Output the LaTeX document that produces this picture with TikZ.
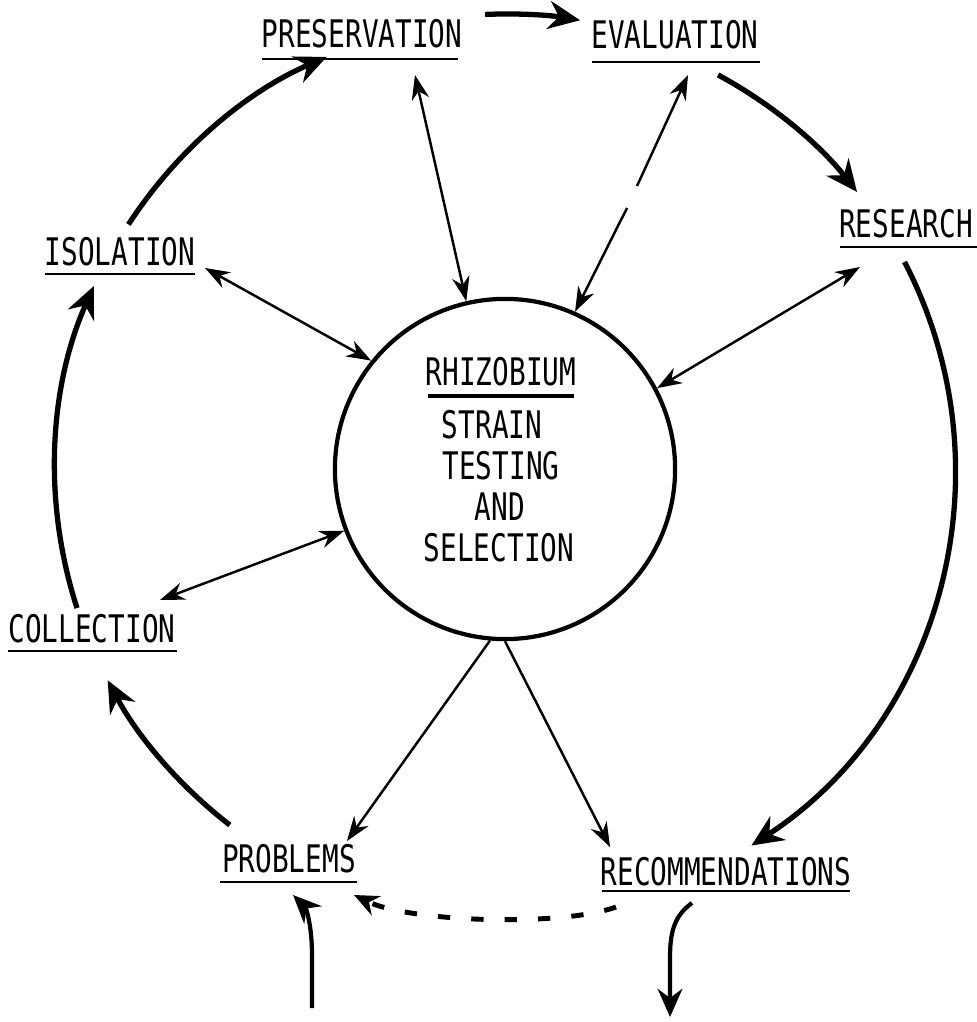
\documentclass[tikz,border=0pt]{standalone}
\usepackage{fontspec}
\setmainfont{DejaVu Sans Mono}[FakeStretch=0.73]
\usetikzlibrary{arrows.meta,calc}
\begin{document}
\begin{tikzpicture}[x=0.01cm,y=-0.01cm,
  lbl/.style={inner sep=0pt,font=\fontsize{10.8}{12}\selectfont},
  uline/.style={line width=0.8pt},
  cyc/.style={line width=1.5pt,-{Stealth[length=9pt,width=8pt]}},
  link/.style={line width=0.7pt,{Stealth[length=7pt,width=5pt]}-{Stealth[length=7pt,width=5pt]}},
  single/.style={line width=0.7pt,-{Stealth[length=7pt,width=5pt]}},
  ioarrow/.style={line width=1.2pt,-{Stealth[length=8pt,width=7pt]}},
  feedback/.style={line width=1.4pt,dash pattern=on 3.5pt off 6pt,-{Stealth[length=7pt,width=6pt]}}
]
\useasboundingbox (0,0) rectangle (977,1022);
\coordinate (C) at (505,469);
\node[draw,circle,line width=1.2pt,minimum size=3.4cm,inner sep=0pt] (rz) at (C) {};

% labels
\node[lbl] (pres) at (362,33.5) {PRESERVATION};
\node[lbl] (eval) at (675,34.5) {EVALUATION};
\node[lbl] (res)  at (906,223.5) {RESEARCH};
\node[lbl] (iso)  at (120,251.5) {ISOLATION};
\node[lbl] (coll) at (92,629) {COLLECTION};
\node[lbl] (prob) at (289,858.5) {PROBLEMS};
\node[lbl] (rec)  at (726,871.5) {RECOMMENDATIONS};

\node[lbl] (t1) at (501,371.5) {RHIZOBIUM};
\node[lbl] (t2) at (492,425) {STRAIN};
\node[lbl] (t3) at (501,466) {TESTING};
\node[lbl] (t4) at (500,507) {AND};
\node[lbl] (t5) at (499,548) {SELECTION};

% underlines
\draw[uline] (262,59) -- (458,59);
\draw[uline] (592,62) -- (760,62);
\draw[uline] (840,247) -- (977,247);
\draw[uline] (45,274) -- (195,274);
\draw[uline] (8,651) -- (177,651);
\draw[uline] (220,882) -- (357,882);
\draw[uline] (602,891) -- (850,891);
\draw[line width=1pt] (428,396) -- (574,396);

% cycle arcs
\draw[cyc] ($(C)+(-92.5:455)$) arc[start angle=-92.5,end angle=-80.5,radius=455];
\draw[cyc] ($(C)+(-61.6:448)$) arc[start angle=-61.6,end angle=-38.2,radius=448];
\draw[cyc] ($(C)+(-27.4:450)$) arc[start angle=-27.4,end angle=56.8,radius=450];
\draw[cyc] ($(C)+(-232.3:450)$) arc[start angle=-232.3,end angle=-208,radius=450];
\draw[cyc] ($(C)+(-198:450)$) arc[start angle=-198,end angle=-156,radius=450];
\draw[cyc] ($(C)+(-147:449)$) arc[start angle=-147,end angle=-113.4,radius=449];

% links to the centre
\coordinate (isoP) at (205,268);
\coordinate (presP) at (415,75);
\coordinate (evalP) at (688,75);
\coordinate (evalG1) at (637,186);
\coordinate (evalG2) at (627,208);
\coordinate (resP) at (860,267);
\coordinate (collP) at (160,600);
\coordinate (probP) at (347,841);
\coordinate (recP) at (610,847);
\draw[link] (isoP) -- (rz.141);
\draw[link] (presP) -- (rz.103);
\draw[single] (evalG1) -- (evalP);
\draw[single] (evalG2) -- (rz.66);
\draw[link] (resP) -- (rz.28);
\draw[link] (collP) -- (rz.201);
\draw[single] (rz.265) -- (probP);
\draw[single] (rz.270) -- (recP);

% feedback and in/out
\coordinate (recF) at (616,907);
\coordinate (probF) at (354,895);
\draw[feedback] (recF) .. controls (560,927) and (410,922) .. (probF);
\coordinate (inS) at (312,1008);
\coordinate (inE) at (293,895);
\draw[ioarrow] (inS) -- (312,955) .. controls (312,925) and (306,908) .. (inE);
\coordinate (outS) at (692,903);
\coordinate (outE) at (670,1017);
\draw[ioarrow] (outS) .. controls (674,916) and (670,932) .. (670,958) -- (outE);
\end{tikzpicture}
\end{document}
